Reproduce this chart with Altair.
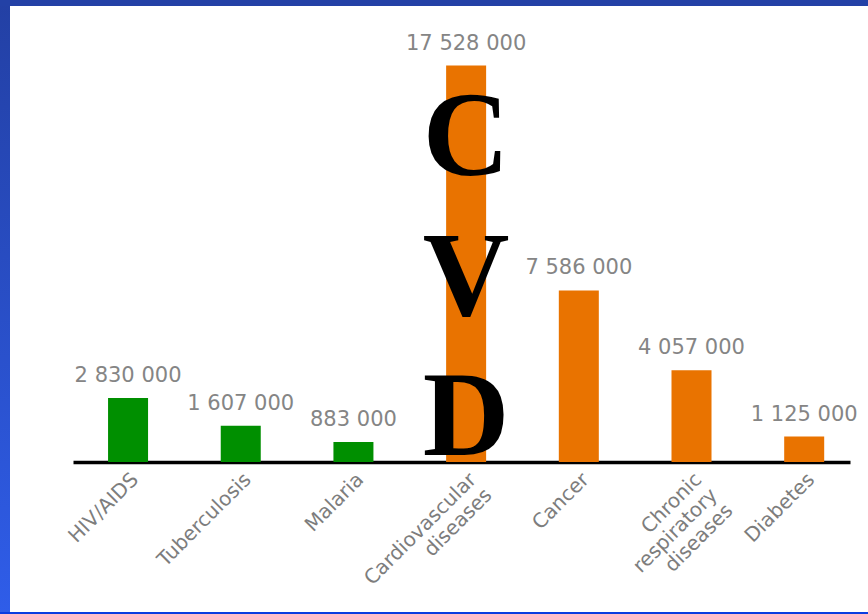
import altair as alt
import pandas as pd

# Deaths by cause (global estimates)
causes = [
    "HIV/AIDS",
    "Tuberculosis",
    "Malaria",
    "Cardiovascular\ndiseases",
    "Cancer",
    "Chronic\nrespiratory\ndiseases",
    "Diabetes",
]
deaths = [2830000, 1607000, 883000, 17528000, 7586000, 4057000, 1125000]
groups = ["Communicable", "Communicable", "Communicable",
          "Chronic", "Chronic", "Chronic", "Chronic"]
value_labels = ["2 830 000", "1 607 000", "883 000", "17 528 000",
                "7 586 000", "4 057 000", "1 125 000"]
group_names = ["Communicable", "Chronic"]
group_colors = ["#008f00", "#e97300"]
acronym = ["C", "V", "D"]
highlight = "Cardiovascular\ndiseases"

df = pd.DataFrame({"cause": causes, "deaths": deaths,
                   "group": groups, "label": value_labels})

x_enc = alt.X(
    "cause:N",
    sort=causes,
    scale=alt.Scale(paddingInner=0.645, paddingOuter=0.27, align=0.576),
    axis=alt.Axis(
        title=None,
        labelAngle=-45,
        labelExpr="split(datum.label, '\\n')",
        labelFont="DejaVu Sans",
        labelFontSize=20,
        labelColor="#7d7d7d",
        labelLineHeight=22,
        labelPadding=7,
        ticks=False,
        domainColor="black",
        domainWidth=3.5,
        grid=False,
    ),
)
y_enc = alt.Y("deaths:Q", scale=alt.Scale(domain=[0, 19540000]), axis=None)

base = alt.Chart(df).encode(x=x_enc, y=y_enc)

bars = base.mark_bar().encode(
    color=alt.Color("group:N",
                    scale=alt.Scale(domain=group_names, range=group_colors),
                    legend=None)
)

values = base.mark_text(
    baseline="bottom", dy=-12, font="DejaVu Sans", fontSize=21, color="#858585"
).encode(text="label:N")

letters = alt.Chart(pd.DataFrame({"cause": [highlight]})).mark_text(
    text=acronym,
    font="Liberation Serif",
    fontWeight="bold",
    fontSize=120,
    lineHeight=140,
    baseline="alphabetic",
    align="center",
    color="black",
).encode(x=alt.X("cause:N", sort=causes), y=alt.value(155))

# Slide frame: blue bands on the left, top and bottom edges
frame_src = pd.DataFrame({"k": [0]})
left_band = alt.Chart(frame_src).mark_rect(
    color=alt.LinearGradient(
        gradient="linear",
        stops=[alt.GradientStop(color="#2340a4", offset=0),
               alt.GradientStop(color="#2f5de9", offset=1)],
        x1=0, x2=0, y1=0, y2=1,
    )
).encode(x=alt.value(-73), x2=alt.value(-63), y=alt.value(-20), y2=alt.value(594))
top_band = alt.Chart(frame_src).mark_rect(color="#2341a6").encode(
    x=alt.value(-73), x2=alt.value(795), y=alt.value(-20), y2=alt.value(-14))
bottom_band = alt.Chart(frame_src).mark_rect(color="#0a3de0").encode(
    x=alt.value(-73), x2=alt.value(795), y=alt.value(592), y2=alt.value(594))

chart = alt.layer(
    left_band, top_band, bottom_band, bars, values, letters
).properties(
    width=777,
    height=442,
    padding={"left": 73, "top": 20, "right": 18, "bottom": 152},
    autosize=alt.AutoSizeParams(type="none"),
    background="white",
).configure_view(stroke=None)

chart.save("out.html", embed_options={"renderer": "svg", "actions": False})
